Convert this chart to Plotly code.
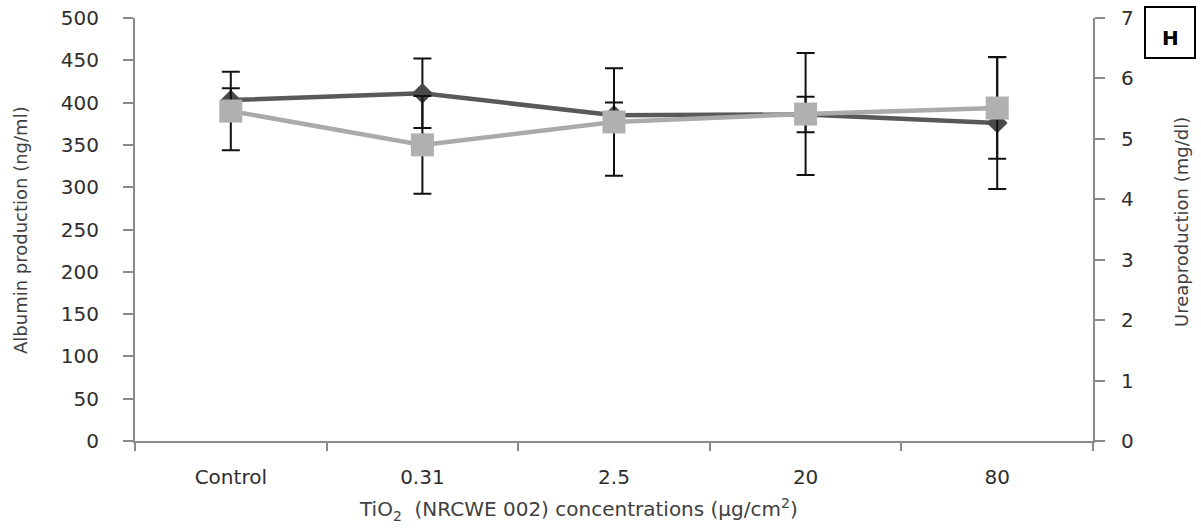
import plotly.graph_objects as go

# Data: TiO2 (NRCWE 002) exposure, albumin and urea production
concentrations = ["Control", "0.31", "2.5", "20", "80"]
albumin = [403, 411, 385, 386, 376]          # ng/ml
albumin_err = [14, 41, 15, 21, 78]
urea = [5.46, 4.90, 5.28, 5.41, 5.51]        # mg/dl
urea_err = [0.65, 0.81, 0.89, 1.01, 0.84]

W, H = 1201, 531
L, R, T, B = 135, 108, 18, 90
pw, ph = W - L - R, H - T - B

def px_x(x):
    return (x - L) / pw

def px_y(y):
    return (H - B - y) / ph

axis_grey = "#8a8a8a"
text_col = "#2e2e2e"
font_family = "DejaVu Sans"

fig = go.Figure()

fig.add_trace(go.Scatter(
    x=concentrations, y=albumin, name="Albumin",
    mode="lines+markers",
    line=dict(color="#595959", width=4.5),
    marker=dict(symbol="diamond", size=16, color="#4a4a4a"),
    error_y=dict(type="data", array=albumin_err, color="#111111",
                 thickness=2, width=9),
    yaxis="y",
))

fig.add_trace(go.Scatter(
    x=concentrations, y=urea, name="Urea",
    mode="lines+markers",
    line=dict(color="#aaaaaa", width=4.5),
    marker=dict(symbol="square", size=23, color="#b0b0b0"),
    error_y=dict(type="data", array=urea_err, color="#111111",
                 thickness=2, width=9),
    yaxis="y2",
))

fig.update_layout(
    template="none",
    width=W, height=H,
    margin=dict(l=L, r=R, t=T, b=B, pad=0, autoexpand=False),
    paper_bgcolor="white", plot_bgcolor="white",
    showlegend=False,
    font=dict(family=font_family, size=20, color=text_col),
    xaxis=dict(
        type="category", range=[-0.5, 4.5], automargin=False,
        showline=True, linecolor=axis_grey, linewidth=2,
        ticks="outside", tickson="boundaries", ticklen=8, tickwidth=2,
        tickcolor=axis_grey, showgrid=False, zeroline=False,
        ticklabelstandoff=17,
        tickfont=dict(family=font_family, size=20, color=text_col),
    ),
    yaxis=dict(
        range=[0, 500], dtick=50, tick0=0, automargin=False,
        showline=True, linecolor=axis_grey, linewidth=2,
        ticks="outside", ticklen=10, tickwidth=2, tickcolor=axis_grey,
        showgrid=False, zeroline=False,
        ticklabelstandoff=20,
        tickfont=dict(family=font_family, size=20, color=text_col),
    ),
    yaxis2=dict(
        range=[0, 7], dtick=1, tick0=0, automargin=False,
        overlaying="y", side="right",
        showline=True, linecolor=axis_grey, linewidth=2,
        ticks="outside", ticklen=10, tickwidth=2, tickcolor=axis_grey,
        showgrid=False, zeroline=False,
        ticklabelstandoff=12,
        tickfont=dict(family=font_family, size=20, color=text_col),
    ),
)

# Axis titles
fig.add_annotation(
    text="Albumin production (ng/ml)", textangle=-90,
    xref="paper", yref="paper", x=px_x(20), y=px_y(230),
    xanchor="center", yanchor="middle", showarrow=False,
    font=dict(family=font_family, size=18, color="#404040"),
)
fig.add_annotation(
    text="Ureaproduction (mg/dl)", textangle=-90,
    xref="paper", yref="paper", x=px_x(1181), y=px_y(222),
    xanchor="center", yanchor="middle", showarrow=False,
    font=dict(family=font_family, size=18, color="#404040"),
)
fig.add_annotation(
    text="TiO<sub>2</sub>&nbsp; (NRCWE 002) concentrations (µg/cm<sup>2</sup>)",
    xref="paper", yref="paper", x=px_x(578), y=px_y(510),
    xanchor="center", yanchor="middle", showarrow=False,
    font=dict(family=font_family, size=20, color="#404040"),
)

# Panel label box
fig.add_shape(
    type="rect", xref="paper", yref="paper",
    x0=px_x(1145), x1=px_x(1195), y0=px_y(58), y1=px_y(7),
    line=dict(color="black", width=2), fillcolor="white",
)
fig.add_annotation(
    text="<b>H</b>", xref="paper", yref="paper",
    x=px_x(1170), y=px_y(38), xanchor="center", yanchor="middle",
    showarrow=False, font=dict(family=font_family, size=20, color="black"),
)

fig.write_html("out.html")
